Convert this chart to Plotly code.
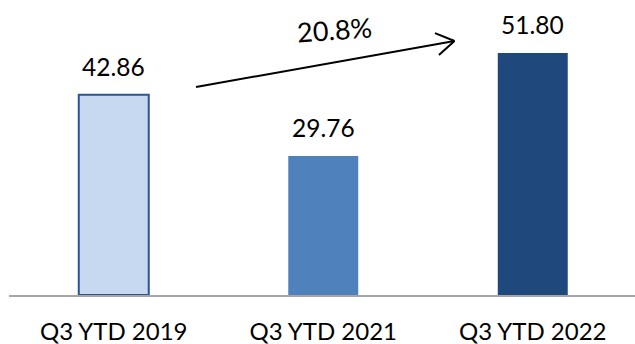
import math
import plotly.graph_objects as go

# Data
categories = ["Q3 YTD 2019", "Q3 YTD 2021", "Q3 YTD 2022"]
values = [42.86, 29.76, 51.80]
value_labels = ["42.86", "29.76", "51.80"]
growth_label = "20.8%"

bar_fills = ["#C6D9F1", "#4F81BD", "#1F497D"]
bar_edges = ["#2C5491", "#4F81BD", "#1F497D"]
bar_edge_widths = [2, 0, 0]

W, H = 635, 344
M_L, M_R, M_T, M_B = 9, 0, 0, 49
X0, X1 = -0.5, 2.488
Y0, Y1 = 0, 63.17
FONT = "Lato"

plot_w = W - M_L - M_R
plot_h = H - M_T - M_B


def px_to_data(px, py):
    """Convert page pixel position to axis data coordinates."""
    x = X0 + (px - M_L) / plot_w * (X1 - X0)
    y = Y0 + (H - M_B - py) / plot_h * (Y1 - Y0)
    return x, y


fig = go.Figure()
fig.add_trace(go.Bar(
    x=list(range(len(categories))),
    y=values,
    marker=dict(color=bar_fills, line=dict(color=bar_edges, width=bar_edge_widths)),
    width=0.334,
    hoverinfo="skip",
))

# Value labels above each bar
for i, (v, t) in enumerate(zip(values, value_labels)):
    fig.add_annotation(x=i, y=v, text=t, showarrow=False, yanchor="bottom",
                       yshift=12, font=dict(family=FONT, size=24.5, color="#000000"))

# Growth arrow from the first bar toward the last bar
start = (196, 87)
tip = (454.5, 41)
sx, sy = px_to_data(*start)
tx, ty = px_to_data(*tip)
fig.add_shape(type="line", x0=sx, y0=sy, x1=tx, y1=ty, xref="x", yref="y",
              line=dict(color="#000000", width=2))
ang = math.atan2(tip[1] - start[1], tip[0] - start[0])
head_len, head_spread = 21, math.radians(32)
for sgn in (-1, 1):
    a = ang + math.pi + sgn * head_spread
    ex, ey = tip[0] + head_len * math.cos(a), tip[1] + head_len * math.sin(a)
    hx, hy = px_to_data(ex, ey)
    fig.add_shape(type="line", x0=tx, y0=ty, x1=hx, y1=hy, xref="x", yref="y",
                  line=dict(color="#000000", width=2))

gx, gy = px_to_data(334, 29)
fig.add_annotation(x=gx, y=gy, text=growth_label, showarrow=False, textangle=-4,
                   font=dict(family=FONT, size=27, color="#000000"))

fig.update_layout(
    width=W, height=H,
    margin=dict(l=M_L, r=M_R, t=M_T, b=M_B, autoexpand=False),
    paper_bgcolor="white", plot_bgcolor="white",
    showlegend=False,
    bargap=0.666,
    xaxis=dict(range=[X0, X1], tickvals=list(range(len(categories))), ticktext=categories,
               showline=True, linecolor="#A6A6A6", linewidth=2, showgrid=False,
               zeroline=False, ticks="", ticklabelstandoff=14, automargin=False,
               tickfont=dict(family=FONT, size=24, color="#000000")),
    yaxis=dict(range=[Y0, Y1], visible=False, showgrid=False, zeroline=False,
               automargin=False),
)

fig.write_html("out.html", config={"displayModeBar": False})
